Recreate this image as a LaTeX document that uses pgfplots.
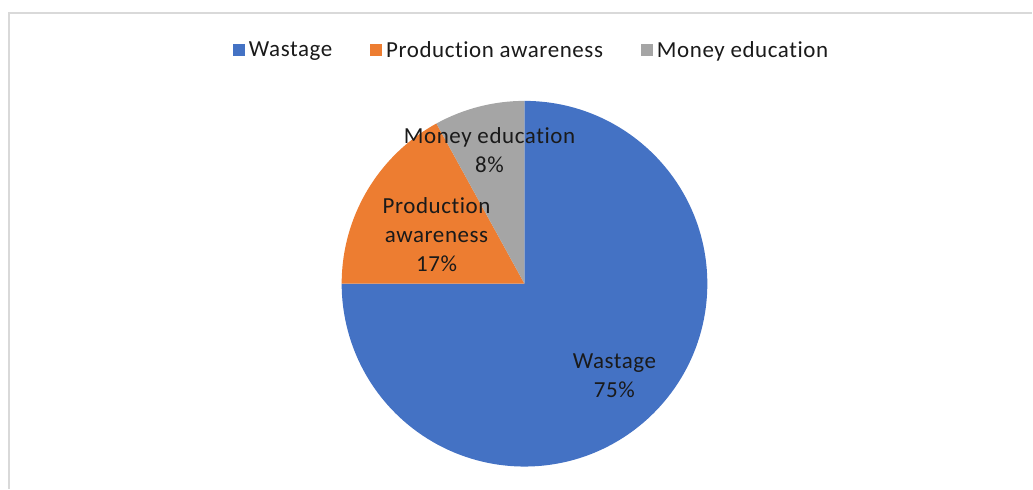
\documentclass[border=0pt]{standalone}
\usepackage{pgfplots}
\pgfplotsset{compat=1.18}
\usepackage{pgfplotstable}
\usepackage{fontspec}
\setmainfont{Carlito}[LetterSpace=2.5, Ligatures=NoCommon]
\definecolor{cblue}{HTML}{4472C4}
\definecolor{corange}{HTML}{ED7D31}
\definecolor{cgray}{HTML}{A5A5A5}
\definecolor{cframe}{HTML}{D9D9D9}
\definecolor{ctext}{HTML}{1A1A1A}
\pgfplotstableread{
label value
Wastage 75
Production 17
Money 8
}\piedata
\begin{document}
\begin{tikzpicture}
\pgfplotstablegetelem{0}{value}\of{\piedata}\let\vA\pgfplotsretval
\pgfplotstablegetelem{1}{value}\of{\piedata}\let\vB\pgfplotsretval
\pgfplotstablegetelem{2}{value}\of{\piedata}\let\vC\pgfplotsretval
\pgfmathsetmacro\aA{90}
\pgfmathsetmacro\aB{\aA-3.6*\vA}
\pgfmathsetmacro\aC{\aB-3.6*\vB}
\pgfmathsetmacro\aD{\aC-3.6*\vC}
\begin{axis}[
  x=1bp, y=1bp,
  xmin=0, xmax=1033, ymin=0, ymax=489,
  hide axis, clip=false,
  legend columns=3,
  legend style={at={(axis cs:230,439)}, anchor=west, draw=none, fill=none,
    font=\fontsize{23bp}{28bp}\selectfont\color{ctext},
    /tikz/every even column/.append style={column sep=34bp},
    nodes={inner sep=4bp}},
  legend image code/.code={\fill[draw=none,#1] (0bp,-6bp) rectangle (12bp,6bp);},
]
\path (axis cs:0,0) rectangle (axis cs:1033,489);
\draw[cframe, line width=2bp] (axis cs:9,0) -- (axis cs:9,476) -- (axis cs:1033,476);
\addlegendimage{fill=cblue}
\addlegendentry{Wastage}
\addlegendimage{fill=corange}
\addlegendentry{Production awareness}
\addlegendimage{fill=cgray}
\addlegendentry{Money education}
\fill[cblue] (axis cs:525,205) -- +(\aA:183bp) arc[start angle=\aA, end angle=\aB, radius=183bp] -- cycle;
\fill[corange] (axis cs:525,205) -- +(\aB:183bp) arc[start angle=\aB, end angle=\aC, radius=183bp] -- cycle;
\fill[cgray] (axis cs:525,205) -- +(\aC:183bp) arc[start angle=\aC, end angle=\aD, radius=183bp] -- cycle;
\begin{scope}[every node/.style={align=center, text=ctext, font=\fontsize{23bp}{29bp}\selectfont}]
\node at (axis cs:490,339) {Money education\\8\%};
\node at (axis cs:437,254) {Production\\awareness\\17\%};
\node at (axis cs:615,113) {Wastage\\75\%};
\end{scope}
\end{axis}
\end{tikzpicture}
\end{document}
